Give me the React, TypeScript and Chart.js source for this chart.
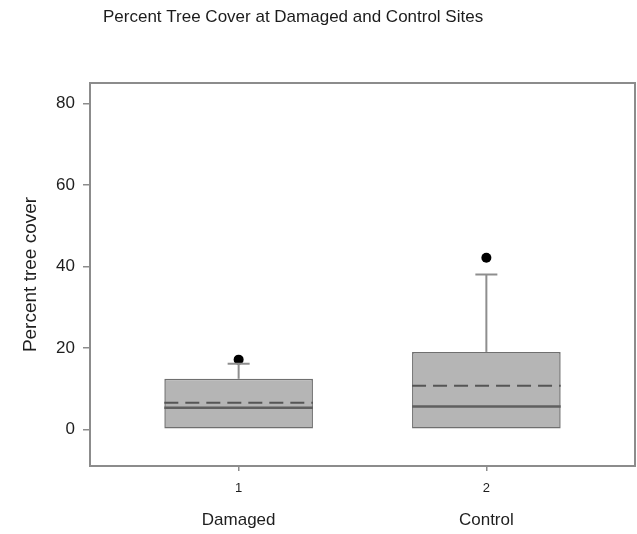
import { useEffect, useRef } from "react";
import { Chart, registerables } from "chart.js";

Chart.register(...registerables);

const titleText = "Percent Tree Cover at Damaged and Control Sites";
const yAxisTitle = "Percent tree cover";
const groupPositions = [1, 2];
const groupNames = ["Damaged", "Control"];
const q1 = [0, 0];
const q3 = [12.4, 19.0];
const medians = [5.3, 5.6];
const means = [6.5, 10.7];
const whiskerLow = [0, 0];
const whiskerHigh = [16.1, 38.0];
const outlierX = [1, 2];
const outlierY = [17.1, 42.1];
const yTicks = [0, 20, 40, 60, 80];

const FONT = "'Liberation Sans', Arial, sans-serif";

const frameAndTitle = {
  id: "frameAndTitle",
  beforeDatasetsDraw(chart: any) {
    const { ctx, chartArea } = chart;
    ctx.save();
    ctx.strokeStyle = "#8c8c8c";
    ctx.lineWidth = 2;
    ctx.strokeRect(chartArea.left, chartArea.top, chartArea.right - chartArea.left, chartArea.bottom - chartArea.top);
    ctx.restore();
  },
  afterDraw(chart: any) {
    const { ctx, chartArea } = chart;
    ctx.save();
    ctx.fillStyle = "#1c1c1c";
    ctx.font = `17px ${FONT}`;
    ctx.textAlign = "left";
    ctx.textBaseline = "middle";
    ctx.fillText(titleText, chartArea.left + 13, 17);
    ctx.restore();
  },
};

const boxExtras = {
  id: "boxExtras",
  afterDatasetDraw(chart: any, args: any) {
    if (args.index !== 0) return;
    const meta = chart.getDatasetMeta(0);
    const y = chart.scales.y;
    const ctx = chart.ctx;
    ctx.save();
    meta.data.forEach((el: any, i: number) => {
      const { x, width } = el.getProps(["x", "width"], true);
      const l = x - width / 2;
      const r = x + width / 2;
      const capHalf = width * 0.074;
      ctx.setLineDash([]);
      ctx.strokeStyle = "#8e8e8e";
      ctx.lineWidth = 2;
      const pTop = y.getPixelForValue(q3[i]);
      const pHigh = y.getPixelForValue(whiskerHigh[i]);
      if (whiskerHigh[i] > q3[i]) {
        ctx.beginPath();
        ctx.moveTo(x, pTop);
        ctx.lineTo(x, pHigh);
        ctx.stroke();
        ctx.beginPath();
        ctx.moveTo(x - capHalf, pHigh);
        ctx.lineTo(x + capHalf, pHigh);
        ctx.stroke();
      }
      if (whiskerLow[i] < q1[i]) {
        const pBot = y.getPixelForValue(q1[i]);
        const pLow = y.getPixelForValue(whiskerLow[i]);
        ctx.beginPath();
        ctx.moveTo(x, pBot);
        ctx.lineTo(x, pLow);
        ctx.stroke();
        ctx.beginPath();
        ctx.moveTo(x - capHalf, pLow);
        ctx.lineTo(x + capHalf, pLow);
        ctx.stroke();
      }
      const pMed = y.getPixelForValue(medians[i]);
      ctx.strokeStyle = "#5f5f5f";
      ctx.lineWidth = 2.5;
      ctx.beginPath();
      ctx.moveTo(l, pMed);
      ctx.lineTo(r, pMed);
      ctx.stroke();
      const pMean = y.getPixelForValue(means[i]);
      ctx.strokeStyle = "#555555";
      ctx.lineWidth = 2;
      ctx.setLineDash([14, 7]);
      ctx.beginPath();
      ctx.moveTo(l, pMean);
      ctx.lineTo(r, pMean);
      ctx.stroke();
    });
    ctx.restore();
  },
};

const zeroSidePadding = (s: any) => {
  s.paddingLeft = 0;
  s.paddingRight = 0;
};

export default function App() {
  const canvasRef = useRef<HTMLCanvasElement | null>(null);

  useEffect(() => {
    if (!canvasRef.current) return;
    const chart = new Chart(canvasRef.current, {
      type: "bar",
      data: {
        datasets: [
          {
            type: "bar",
            data: groupPositions.map((g, i) => ({ x: g, y: [q1[i], q3[i]] })) as any,
            backgroundColor: "#b5b5b5",
            borderColor: "#6f6f6f",
            borderWidth: 1.5,
            borderSkipped: false,
            categoryPercentage: 1,
            barPercentage: 0.6,
          } as any,
          {
            type: "scatter",
            data: outlierX.map((x, i) => ({ x, y: outlierY[i] })),
            backgroundColor: "#000000",
            borderColor: "#000000",
            pointRadius: 5,
            borderWidth: 0,
          } as any,
        ],
      },
      options: {
        responsive: false,
        animation: false,
        layout: { autoPadding: false, padding: { top: 83, right: 2, left: 0, bottom: 0 } },
        plugins: {
          legend: { display: false },
          title: { display: false },
          tooltip: { enabled: false },
        },
        scales: {
          x: {
            type: "linear",
            position: "bottom",
            min: 0.4,
            max: 2.6,
            offset: false,
            border: { display: false },
            grid: { display: true, drawOnChartArea: false, drawTicks: true, tickLength: 5, color: "#8c8c8c", lineWidth: 1.5, offset: false },
            afterBuildTicks: (s: any) => {
              s.ticks = groupPositions.map((v) => ({ value: v }));
            },
            afterFit: (s: any) => {
              s.height = 28;
              zeroSidePadding(s);
            },
            ticks: {
              padding: 10,
              color: "#1e1e1e",
              font: { family: FONT, size: 13 },
              maxRotation: 0,
              callback: (v: any) => String(v),
            },
          },
          x2: {
            type: "linear",
            position: "bottom",
            min: 0.4,
            max: 2.6,
            offset: false,
            border: { display: false },
            grid: { display: false },
            afterBuildTicks: (s: any) => {
              s.ticks = groupPositions.map((v) => ({ value: v }));
            },
            afterFit: (s: any) => {
              s.height = 40;
              zeroSidePadding(s);
            },
            ticks: {
              padding: 8,
              color: "#1e1e1e",
              font: { family: FONT, size: 17 },
              maxRotation: 0,
              callback: (_v: any, i: number) => groupNames[i],
            },
          },
          y: {
            type: "linear",
            min: -9,
            max: 85,
            border: { display: false },
            grid: { display: true, drawOnChartArea: false, drawTicks: true, tickLength: 7, color: "#8c8c8c", lineWidth: 1.5 },
            afterBuildTicks: (s: any) => {
              s.ticks = yTicks.map((v) => ({ value: v }));
            },
            afterFit: (s: any) => {
              s.width = 90;
            },
            ticks: {
              padding: 8,
              color: "#1e1e1e",
              font: { family: FONT, size: 17 },
            },
            title: {
              display: true,
              text: yAxisTitle,
              color: "#1e1e1e",
              font: { family: FONT, size: 19 },
              padding: { top: 19, bottom: 0 },
            },
          },
        },
      } as any,
      plugins: [frameAndTitle, boxExtras],
    });
    return () => chart.destroy();
  }, []);

  return (
    <div style={{ position: "fixed", left: 0, top: 0, width: 637, height: 534, background: "#ffffff" }}>
      <canvas ref={canvasRef} width={637} height={534} style={{ display: "block" }} />
    </div>
  );
}
